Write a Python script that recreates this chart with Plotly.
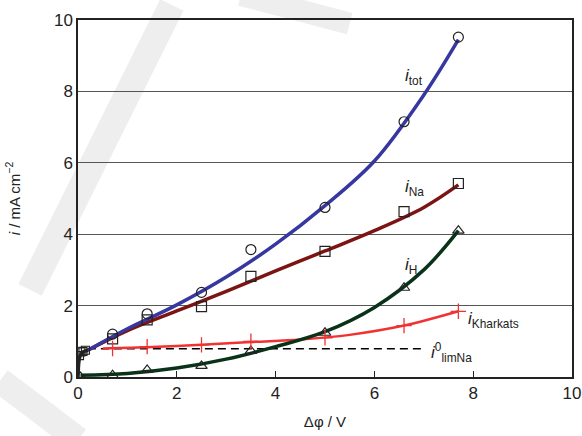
import plotly.graph_objects as go

# measured points
x_pts = [0.7, 1.4, 2.5, 3.5, 5.0, 6.6, 7.7]
itot_pts = [1.2, 1.77, 2.37, 3.57, 4.75, 7.15, 9.52]
iNa_pts = [1.07, 1.6, 1.97, 2.82, 3.52, 4.63, 5.42]
iH_pts = [0.05, 0.2, 0.31, 0.73, 1.24, 2.5, 4.1]
iKh_pts = [0.8, 0.85, 0.9, 1.0, 1.1, 1.44, 1.84]

# low-voltage points (black)
x_low = [0.0, 0.02, 0.05, 0.1, 0.2]
i_low = [0.0, 0.45, 0.62, 0.7, 0.75]
x_low_pts = [0.03, 0.06, 0.1, 0.15]
i_low_pts = [0.6, 0.7, 0.72, 0.75]
x_H0 = [0.05]
iH0 = [0.0]

# fitted curves
x_fit = [0.2, 1.0, 2.0, 3.0, 4.0, 5.0, 6.0, 7.0, 7.7]
itot_fit = [0.75, 1.35, 2.02, 2.8, 3.72, 4.8, 6.05, 7.9, 9.45]
iNa_fit = [0.75, 1.3, 1.85, 2.4, 2.97, 3.53, 4.1, 4.75, 5.38]
x_fitH = [0.05, 1.0, 2.0, 3.0, 4.0, 5.0, 6.0, 7.0, 7.7]
iH_fit = [0.05, 0.1, 0.25, 0.5, 0.85, 1.27, 1.95, 3.0, 4.1]
x_fitK = [0.5, 1.5, 2.5, 3.5, 4.5, 5.5, 6.6, 7.7]
iKh_fit = [0.8, 0.84, 0.9, 0.98, 1.05, 1.18, 1.44, 1.84]

# limiting current
x_lim = [0.2, 7.0]
i_lim = [0.79, 0.79]

blue = "rgb(55,55,160)"
brown = "rgb(125,20,20)"
green = "rgb(10,50,25)"
red = "rgb(240,50,50)"

fig = go.Figure()
fig.add_trace(go.Scatter(x=x_lim, y=i_lim, mode="lines",
                         line=dict(color="black", width=1.5, dash="8px,5px")))
fig.add_trace(go.Scatter(x=x_fitK, y=iKh_fit, mode="lines", line=dict(color=red, width=2.5, shape="spline")))
fig.add_trace(go.Scatter(x=x_fitH, y=iH_fit, mode="lines", line=dict(color=green, width=3.5, shape="spline")))
fig.add_trace(go.Scatter(x=x_fit, y=iNa_fit, mode="lines", line=dict(color=brown, width=3.5, shape="spline")))
fig.add_trace(go.Scatter(x=x_fit, y=itot_fit, mode="lines", line=dict(color=blue, width=3.5, shape="spline")))
fig.add_trace(go.Scatter(x=x_low, y=i_low, mode="lines", line=dict(color="#222", width=3.5, shape="spline")))

fig.add_trace(go.Scatter(x=x_pts, y=itot_pts, mode="markers",
                         marker=dict(symbol="circle-open", size=10, color="#222", line=dict(width=1.2))))
fig.add_trace(go.Scatter(x=x_pts, y=iNa_pts, mode="markers",
                         marker=dict(symbol="square-open", size=10, color="#222", line=dict(width=1.2))))
fig.add_trace(go.Scatter(x=x_pts + x_H0, y=iH_pts + iH0, mode="markers",
                         marker=dict(symbol="triangle-up-open", size=10, color="#222", line=dict(width=1.2))))
fig.add_trace(go.Scatter(x=x_pts, y=iKh_pts, mode="markers",
                         marker=dict(symbol="cross-thin-open", size=11, color=red, line=dict(width=1.3, color=red))))
fig.add_trace(go.Scatter(x=x_low_pts, y=i_low_pts, mode="markers",
                         marker=dict(symbol="square-open", size=8, color="#222", line=dict(width=1.2))))

font = "Liberation Sans, Arial, sans-serif"
ann = [
    dict(x=6.58, y=8.4, text="<i>i</i><sub>tot</sub>"),
    dict(x=6.58, y=5.3, text="<i>i</i><sub>Na</sub>"),
    dict(x=6.58, y=3.1, text="<i>i</i><sub>H</sub>"),
    dict(x=7.85, y=1.6, text="<i>i</i><sub>Kharkats</sub>"),
    dict(x=7.1, y=0.68, text="<i>i</i><sup>0</sup><sub>limNa</sub>"),
]
for a in ann:
    fig.add_annotation(x=a["x"], y=a["y"], text=a["text"], showarrow=False,
                       xanchor="left", yanchor="middle",
                       font=dict(family=font, size=17, color="#222"))

# faint background watermark
wm = "rgb(238,238,238)"
fig.add_shape(type="line", xref="paper", yref="paper", x0=0.190, y0=1.042, x1=-0.097, y1=0.244,
              line=dict(color=wm, width=26), layer="below")
fig.add_shape(type="path", xref="paper", yref="paper",
              path="M -0.158,-0.01 Q -0.08,-0.09 0.0,-0.176",
              line=dict(color=wm, width=26), layer="below")
fig.add_shape(type="line", xref="paper", yref="paper", x0=0.33, y0=1.070, x1=0.55, y1=0.99,
              line=dict(color=wm, width=22), layer="below")

fig.update_layout(
    width=582, height=436,
    margin=dict(l=78, r=10, t=20, b=59),
    paper_bgcolor="white", plot_bgcolor="rgba(0,0,0,0)",
    showlegend=False,
    font=dict(family=font, size=17, color="#222"),
    xaxis=dict(range=[0, 10], tickvals=[0, 2, 4, 6, 8, 10], showgrid=False, zeroline=False,
               showline=True, linecolor="#222", linewidth=1.5, mirror=True, automargin=False,
               ticks="inside", ticklen=6, tickcolor="#222",
               title=dict(text="Δφ / V", font=dict(size=15), standoff=14)),
    yaxis=dict(range=[0, 10], tickvals=[0, 2, 4, 6, 8, 10], showgrid=True, gridcolor="#555", gridwidth=1,
               zeroline=False, showline=True, linecolor="#222", linewidth=1.5, mirror=True, automargin=False,
               ticks="", title=dict(text="<i>i</i> / mA cm<sup>−2</sup>", font=dict(size=15), standoff=30)),
)

fig.write_html("out.html", config={"displayModeBar": False},
               post_script="document.body.style.margin='0';document.body.style.overflow='hidden';")
